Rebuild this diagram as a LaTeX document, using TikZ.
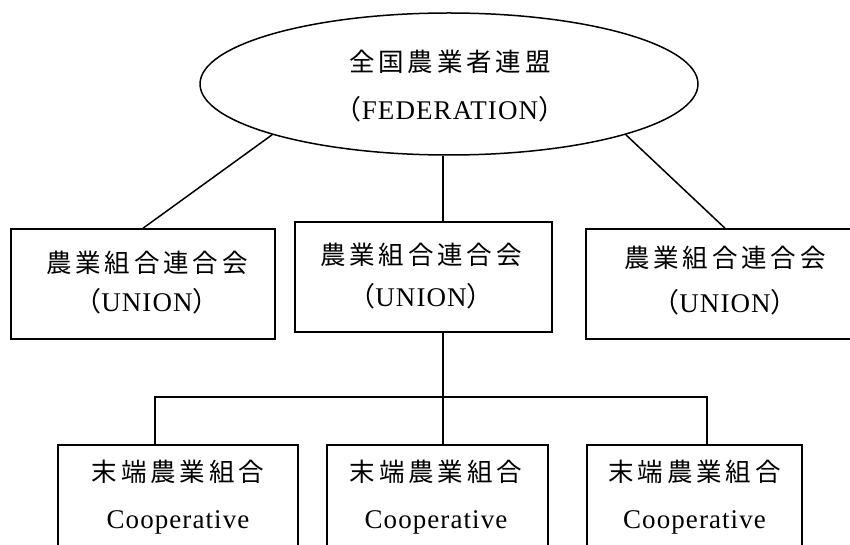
\documentclass[tikz,border=0pt]{standalone}
\usepackage{fontspec}
\setmainfont[LetterSpace=4]{Liberation Serif}
\newfontfamily\cjk[LetterSpace=15]{Noto Sans CJK JP}
\usetikzlibrary{shapes.geometric}
\begin{document}
\begin{tikzpicture}[x=1pt,y=-1pt,line width=1.5pt,
  box/.style={draw,rectangle,inner sep=0pt,minimum height=110pt},
  fedshape/.style={draw,ellipse,inner sep=0pt,minimum width=498pt,minimum height=142pt},
  txt/.style={anchor=base,inner sep=0pt,font=\fontsize{27}{30}\selectfont},
  jp/.style={anchor=base,inner sep=0pt,font=\fontsize{25.5}{30}\selectfont\cjk}]
\useasboundingbox (0,0) rectangle (850,545);
\clip (0,0) rectangle (850,545);
% federation
\node[fedshape] (fed) at (449,84) {};
\node[jp] (fedA) at (450,71.5) {全国農業者連盟};
\node[txt] (fedB) at (450,120) {{\cjk （}FEDERATION{\cjk ）}};
% unions
\node[box,minimum width=264pt] (lu) at (143,284) {};
\node[box,minimum width=257pt] (mu) at (423.5,277) {};
\node[box,minimum width=278pt] (ru) at (725,284) {};
\node[jp] (luA) at (147,272.5) {農業組合連合会};
\node[txt] (luB) at (147,311) {{\cjk （}UNION{\cjk ）}};
\node[jp] (muA) at (421,264.5) {農業組合連合会};
\node[txt] (muB) at (421,306) {{\cjk （}UNION{\cjk ）}};
\node[jp] (ruA) at (725,267.5) {農業組合連合会};
\node[txt] (ruB) at (725,312) {{\cjk （}UNION{\cjk ）}};
% cooperatives
\node[box,minimum width=240pt] (cl) at (178,500) {};
\node[box,minimum width=221pt] (cm) at (437.5,500) {};
\node[box,minimum width=215pt] (cr) at (694.5,500) {};
\node[jp] (clA) at (178,481.5) {末端農業組合};
\node[txt] (clB) at (178,528.6) {Cooperative};
\node[jp] (cmA) at (436,481.5) {末端農業組合};
\node[txt] (cmB) at (436,528.6) {Cooperative};
\node[jp] (crA) at (694.5,481.5) {末端農業組合};
\node[txt] (crB) at (694.5,528.6) {Cooperative};
% connectors
\coordinate (xm) at (443,0);
\coordinate (xl) at (155,397);
\coordinate (xr) at (707,397);
\draw (fed.196) -- (lu.north);
\draw (fed.344) -- (ru.north);
\draw (xm |- fed.south) -- (xm |- mu.north);
\draw (xm |- mu.south) -- (xm |- cm.north);
\draw (xl |- cl.north) -- (xl) -- (xr) -- (xr |- cr.north);
\end{tikzpicture}
\end{document}
